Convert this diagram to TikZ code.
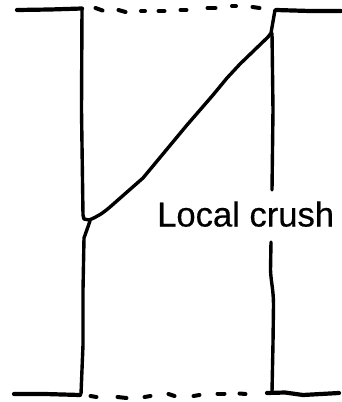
\documentclass[tikz,border=0pt]{standalone}
\usepackage{fontspec}
\setmainfont[FakeBold=0.35]{Liberation Sans}
\tikzset{
  wall/.style={line width=3.4pt,line cap=round,line join=round,black},
  heavy/.style={line width=4.2pt,line cap=round,line join=round,black},
  dashbit/.style={line width=4pt,line cap=round,black},
  lbl/.style={inner sep=0pt,anchor=base west,font=\fontsize{34.6pt}{37pt}\selectfont}
}
\begin{document}
\begin{tikzpicture}[x=1pt,y=-1pt]
\useasboundingbox (0,0) rectangle (342,402);
% flanges
\draw[heavy] (17,10) -- (50,9.5) -- (82,8.5);
\draw[heavy] (276,10) -- (310,11) -- (341,11);
\draw[heavy] (14,394) -- (45,394) -- (80,395);
\draw[heavy] (267,393) -- (285,392.5) -- (303,395) -- (339,393);
% left wall, upper part
\draw[wall] (82,9) -- (81.5,110) -- (83,215) -- (84,219) -- (89,220);
% crush line
\draw[wall] (89,220) .. controls (97,217) and (103,213) .. (110,207)
  -- (143,178) -- (187,125) -- (213,95) -- (227,78) -- (240,64) -- (268,37);
% left wall, lower part
\draw[wall] (90,221) -- (84,238) -- (83,290) -- (83,345) -- (81,394);
% right wall, upper part
\draw[wall] (275,10) -- (271,33) -- (268,37);
\draw[wall] (272,33) -- (273,110) -- (272,190);
% right wall, lower part
\draw[wall] (271,242) -- (270.5,270) .. controls (271,282) and (273.5,290) .. (273.5,305) -- (273,343) -- (272,392);
% dashed top
\foreach \a/\b/\c/\d in {95.5/8/102.5/10.5,118.5/10/125.5/12,141/11/145/11,158.5/11/164.5/11,180.5/10/186.5/10,207.5/8/215.5/8,232/6/236/6,252.5/7/259.5/8}
  \draw[dashbit] (\a,\b) -- (\c,\d);
% dashed bottom
\foreach \a/\b/\c/\d in {90.5/396/96.5/397,117.5/397/126.5/398,144.5/397/150.5/396,168.5/394/174.5/396,193.5/396/199.5/395,217.5/393.5/224.5/393.5,239.5/393.5/245.5/394}
  \draw[dashbit] (\a,\b) -- (\c,\d);
\node[lbl] (label) at (157,226.5) {Local crush};
\end{tikzpicture}
\end{document}
